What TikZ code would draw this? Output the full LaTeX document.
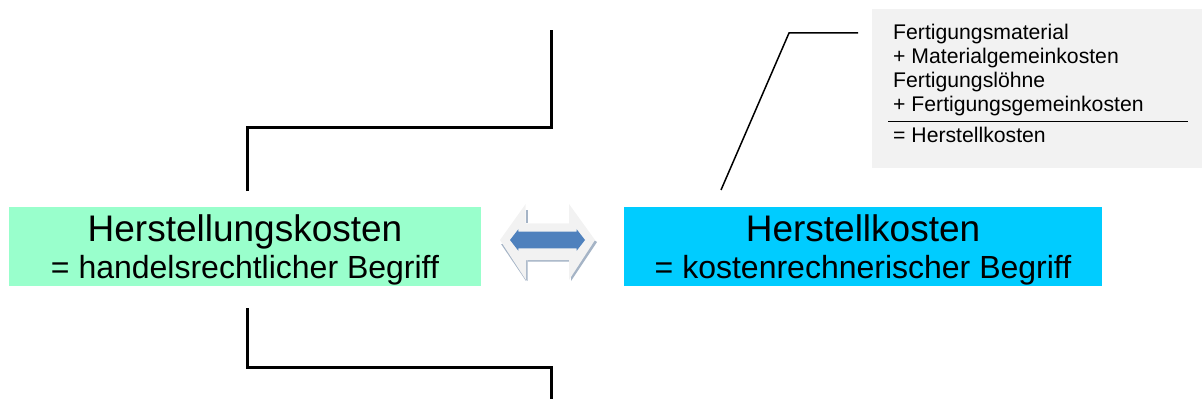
\documentclass[tikz,border=0pt]{standalone}
\usepackage{fontspec}
\setmainfont{Liberation Sans}
\definecolor{mint}{HTML}{99FFCC}
\definecolor{sky}{HTML}{00CCFF}
\definecolor{panel}{HTML}{F2F2F2}
\definecolor{arrowblue}{HTML}{4F81BD}
\definecolor{hatch}{HTML}{7F93AE}
\tikzset{
  x=1pt,y=-1pt,
  conceptbox/.style={inner sep=0pt,outer sep=0pt,minimum height=79pt,align=center,anchor=north west},
  heavy/.style={draw=black,line width=3pt,line join=miter},
  thin link/.style={draw=black,line width=1.5pt,line join=miter},
  big/.style={font=\fontsize{37}{40}\selectfont},
  small/.style={font=\fontsize{32}{36}\selectfont},
  listtext/.style={font=\fontsize{21.2}{24}\selectfont,inner sep=0pt,anchor=base west},
}
\begin{document}
\begin{tikzpicture}
\useasboundingbox (0,0) rectangle (1202,401);
\fill[panel] (872,9) rectangle (1202,168);
\node[conceptbox,fill=mint,minimum width=472pt] (hk) at (9,207) {};
\node[conceptbox,fill=sky,minimum width=478pt] (kk) at (624,207) {};
\node[big,inner sep=0pt,anchor=base] (hkA) at (245,241) {Herstellungskosten};
\node[small,inner sep=0pt,anchor=base] (hkB) at (245,278) {= handelsrechtlicher Begriff};
\node[big,inner sep=0pt,anchor=base] (kkA) at (863,241) {Herstellkosten};
\node[small,inner sep=0pt,anchor=base] (kkB) at (863,278) {= kostenrechnerischer Begriff};
\coordinate (tA) at (247,191);
\coordinate (tB) at (247,128);
\coordinate (tC) at (551,128);
\coordinate (tD) at (551,30);
\draw[heavy] (tA) -- (tB) -- (tC) -- (tD);
\coordinate (bA) at (247,308);
\coordinate (bB) at (247,367);
\coordinate (bC) at (551,367);
\coordinate (bD) at (551,399);
\draw[heavy] (bA) -- (bB) -- (bC) -- (bD);
\coordinate (lA) at (721,190);
\coordinate (lB) at (789,33);
\coordinate (lC) at (858,33);
\draw[thin link] (lA) -- (lB) -- (lC);
\node[listtext] (l1) at (893,39.3) {Fertigungsmaterial};
\node[listtext] (l2) at (893,63.3) {+ Materialgemeinkosten};
\node[listtext] (l3) at (893,87.3) {Fertigungslöhne};
\node[listtext] (l4) at (893,111.7) {+ Fertigungsgemeinkosten};
\node[listtext] (l5) at (893,142.7) {= Herstellkosten};
\coordinate (rA) at (888,121.5);
\coordinate (rB) at (1188,121.5);
\draw[thin link] (rA) -- (rB);
% double arrow icon
\fill[hatch!70] (527,260) rectangle (569,261.5) (526,260) -- (527.5,260) -- (527.5,281) -- (526,279) -- cycle;
\fill[hatch!70] (571,281) -- (571,275) -- (594,240) -- (597,242) -- cycle;
\fill[hatch!70] (526,210) rectangle (528,223);
\fill[hatch!70] (501,244) -- (503,244) -- (527,279) -- (526,281) -- cycle;
\fill[panel] (500,240) -- (525.7,204) -- (525.7,223.3) -- (569,223.3) -- (569,204) -- (595,240) -- (569,280) -- (569,260) -- (526,260) -- (526,280) -- cycle;
\fill[arrowblue] (510,240) -- (518.3,229.3) -- (518.3,231.7) -- (576.7,231.7) -- (576.7,229.3) -- (585,240) -- (576.7,250.7) -- (576.7,248.3) -- (518.3,248.3) -- (518.3,250.7) -- cycle;
\end{tikzpicture}
\end{document}
